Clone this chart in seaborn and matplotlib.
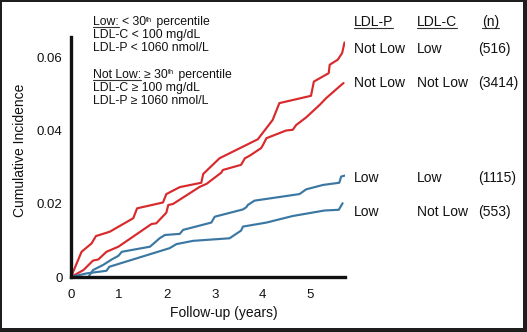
import matplotlib
matplotlib.use("Agg")
import matplotlib.pyplot as plt
import seaborn as sns
import pandas as pd
from matplotlib.patches import Rectangle
from matplotlib.lines import Line2D

# ---- data ----
nl_l_x = [0, 0.22, 0.43, 0.52, 0.81, 1.30, 1.38, 1.92, 1.99, 2.27, 2.72, 2.76, 3.10, 3.90, 4.21, 4.35, 5.01, 5.07, 5.38, 5.40, 5.57, 5.66, 5.71]
nl_l_y = [0, 0.0069, 0.0092, 0.0112, 0.0124, 0.0161, 0.0188, 0.0204, 0.0227, 0.0246, 0.0258, 0.0282, 0.0325, 0.0377, 0.0430, 0.0476, 0.0496, 0.0535, 0.0558, 0.0581, 0.0595, 0.0613, 0.0642]

nl_nl_x = [0, 0.26, 0.46, 0.57, 0.74, 0.99, 1.58, 1.68, 1.78, 1.99, 2.03, 2.13, 2.69, 2.83, 3.14, 3.17, 3.55, 3.63, 3.73, 3.97, 4.01, 4.08, 4.49, 4.63, 4.70, 4.91, 5.19, 5.33, 5.60, 5.69]
nl_nl_y = [0, 0.0019, 0.0045, 0.0048, 0.0069, 0.0083, 0.0136, 0.0145, 0.0147, 0.0176, 0.0197, 0.0200, 0.0247, 0.0255, 0.0286, 0.0293, 0.0307, 0.0325, 0.0332, 0.0353, 0.0362, 0.0380, 0.0401, 0.0403, 0.0416, 0.0437, 0.0471, 0.0490, 0.0521, 0.0531]

l_l_x = [0, 0.36, 0.46, 0.67, 0.85, 0.99, 1.06, 1.65, 1.85, 1.96, 2.27, 2.34, 2.93, 3.00, 3.59, 3.66, 3.69, 3.83, 4.77, 4.91, 5.26, 5.60, 5.64, 5.73]
l_l_y = [0, 0, 0.0019, 0.0033, 0.0048, 0.0058, 0.0069, 0.0083, 0.0106, 0.0115, 0.0118, 0.0129, 0.0149, 0.0165, 0.0185, 0.0191, 0.0197, 0.0209, 0.0227, 0.0240, 0.0252, 0.0258, 0.0275, 0.0278]

l_nl_x = [0, 0.33, 0.74, 0.80, 2.06, 2.20, 2.55, 3.31, 3.55, 3.59, 4.08, 4.63, 5.29, 5.59, 5.67]
l_nl_y = [0, 0.0010, 0.0017, 0.0028, 0.0079, 0.0090, 0.0099, 0.0106, 0.0127, 0.0138, 0.0149, 0.0167, 0.0182, 0.0184, 0.0202]

groups = ["NL_L", "NL_NL", "L_L", "L_NL"]
row_ldlp = ["Not Low", "Not Low", "Low", "Low"]
row_ldlc = ["Low", "Not Low", "Low", "Not Low"]
row_n = ["(516)", "(3414)", "(1115)", "(553)"]

x_ticks = [0, 1, 2, 3, 4, 5]
y_ticks = [0, 0.02, 0.04, 0.06]
y_ticklabels = ["0", "0.02", "0.04", "0.06"]

RED = "#d8292c"
BLUE = "#3a77a2"

frames = []
for g, xs, ys in zip(groups, [nl_l_x, nl_nl_x, l_l_x, l_nl_x], [nl_l_y, nl_nl_y, l_l_y, l_nl_y]):
    frames.append(pd.DataFrame({"t": xs, "ci": ys, "group": g}))
df = pd.concat(frames, ignore_index=True)

sns.set_style("white")
plt.rcParams["font.family"] = ["Liberation Sans", "DejaVu Sans"]

W, H = 527, 332
fig = plt.figure(figsize=(W / 100, H / 100), dpi=100)
fig.patch.set_facecolor("#1e1e1e")
bg = Rectangle((2 / W, 4 / H), (523 - 2) / W, (330 - 4) / H,
               transform=fig.transFigure, facecolor="white", edgecolor="none", zorder=-10)
fig.patches.append(bg)

ax = fig.add_axes([71 / W, 1 - 277 / H, (345 - 71) / W, (277 - 37) / H])
ax.set_zorder(5)
ax.set_facecolor("none")
sns.lineplot(data=df, x="t", y="ci", hue="group", palette={"NL_L": RED, "NL_NL": RED, "L_L": BLUE, "L_NL": BLUE},
             estimator=None, sort=False, units="group", linewidth=1.55, legend=False, ax=ax)

ax.set_xlim(0, 5.72)
ax.set_ylim(0, 0.0657)
ax.set_xticks(x_ticks)
ax.set_xticklabels([str(v) for v in x_ticks])
ax.set_yticks(y_ticks)
ax.set_yticklabels(y_ticklabels)
ax.tick_params(axis="both", length=0, labelsize=9.5, colors="#111111")
ax.tick_params(axis="x", pad=9)
ax.tick_params(axis="y", pad=6)
for s in ["top", "right"]:
    ax.spines[s].set_visible(False)
for s in ["left", "bottom"]:
    ax.spines[s].set_linewidth(2.4)
    ax.spines[s].set_color("#111111")
    ax.spines[s].set_capstyle("projecting")
ax.set_xlabel("Follow-up (years)", fontsize=10, color="#111111")
ax.set_ylabel("Cumulative Incidence", fontsize=10, color="#111111")
ax.xaxis.set_label_coords((224 - 71) / (345 - 71), -(313 - 277) / (277 - 37), transform=ax.transAxes)
ax.xaxis.label.set_va("center")
ax.yaxis.set_label_coords(-(71 - 20) / (345 - 71), (277 - 150) / (277 - 37), transform=ax.transAxes)
ax.yaxis.label.set_va("center")


def ftext(x, y, s, size=8.5, **kw):
    return fig.text(x / W, 1 - y / H, s, fontsize=size, va="baseline", ha="left", color="#111111", **kw)


fig.canvas.draw()
r = fig.canvas.get_renderer()


def underline(t):
    bb = t.get_window_extent(r)
    x, y = t.get_position()
    ypx = y * H - 1.6
    fig.lines.append(Line2D([bb.x0 / W, bb.x1 / W], [ypx / H, ypx / H], transform=fig.transFigure,
                            color="#333333", linewidth=0.8))
    return bb


def right_of(t, gap):
    return t.get_window_extent(r).x1 + gap


def percentile_line(y, word, sym, size):
    t = ftext(93, y, word, size)
    bb = underline(t)
    t2 = ftext(bb.x1 + 3, y, sym + " 30", size)
    t3 = ftext(right_of(t2, 0.3), y - 3.5, "th", size * 0.6)
    ftext(right_of(t3, 0.3), y, " percentile", size)


# definitions block (baselines)
DS = 8.8
percentile_line(25, "Low:", "<", DS)
ftext(93, 38, "LDL-C < 100 mg/dL", DS)
ftext(93, 51, "LDL-P < 1060 nmol/L", DS)
percentile_line(78, "Not Low:", "≥", DS)
ftext(93, 91, "LDL-C ≥ 100 mg/dL", DS)
ftext(93, 104, "LDL-P ≥ 1060 nmol/L", DS)

# right-hand table
RS = 10
for xx, s in [(354, "LDL-P"), (417, "LDL-C"), (482, "(n)")]:
    underline(ftext(xx, 26, s, RS))
row_y = [53, 87, 182, 216]
for yy, a, b, n in zip(row_y, row_ldlp, row_ldlc, row_n):
    ftext(354, yy, a, RS)
    ftext(417, yy, b, RS)
    ftext(478, yy, n, RS)

fig.savefig("out.png", dpi=100, facecolor=fig.get_facecolor())
